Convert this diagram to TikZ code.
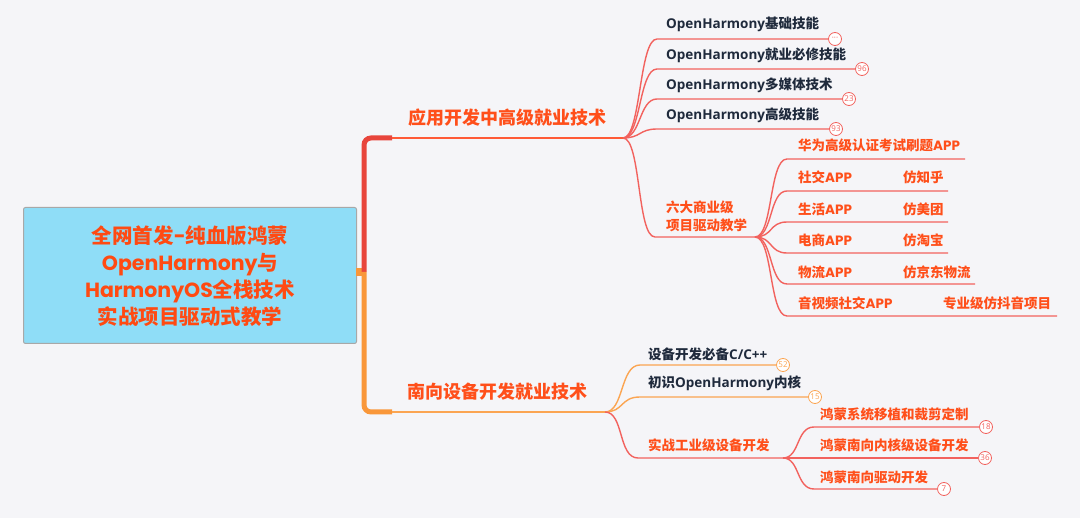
\documentclass[tikz,border=0pt]{standalone}
\usepackage{fontspec}
\setmainfont{Noto Sans CJK SC}
\newfontfamily\pop{Poppins}
\newfontfamily\osans{Open Sans}
\definecolor{bg}{HTML}{F5F5F8}
\definecolor{rootfill}{HTML}{8FDDF7}
\definecolor{rootdraw}{HTML}{A8A8A8}
\definecolor{roottxt}{HTML}{FF4A12}
\definecolor{spinered}{HTML}{E8453C}
\definecolor{b1line}{HTML}{FF5A36}
\definecolor{redline}{HTML}{F2625E}
\definecolor{orgspine}{HTML}{F9973A}
\definecolor{orgline}{HTML}{FBA552}
\definecolor{darktxt}{HTML}{1F2A3C}
\definecolor{orgtxt}{HTML}{FF4F1A}
\begin{document}
\begin{tikzpicture}[x=1pt,y=-1pt,
  dark/.style={anchor=west, inner sep=0pt, text=darktxt, font=\fontsize{13.5}{16}\selectfont\bfseries},
  orgt/.style={anchor=west, inner sep=0pt, text=orgtxt, font=\fontsize{13.5}{16}\selectfont\bfseries},
  blabel/.style={inner sep=0pt, text=orgtxt, font=\fontsize{18}{20}\selectfont\bfseries},
  cnt/.style={circle, draw=#1, fill=white, minimum size=13pt, inner sep=0pt, line width=0.8pt, text=#1, font=\osans\fontsize{8}{9}\selectfont},
  rl/.style={draw=redline, line width=1.4pt},
  ol/.style={draw=orgline, line width=1.4pt}
]
\fill[bg] (0,0) rectangle (1080,518);
\useasboundingbox (0,0) rectangle (1080,518);

% root
\node[draw=rootdraw, fill=rootfill, rounded corners=2pt, line width=1pt, minimum width=333pt, minimum height=136pt, anchor=north west] (rootbox) at (23,207) {};
\node[align=center, text=roottxt, font=\fontsize{20.5}{26.8}\selectfont\bfseries, inner sep=0pt] (root) at (190,276)
 {全网首发{\pop-}纯血版鸿蒙\\{\pop OpenHarmony}与\\{\pop HarmonyOS}全栈技术\\实战项目驱动式教学};

% spine
\coordinate (sp) at (364,272);
\coordinate (t1) at (392,138);
\coordinate (t2) at (392,412);
\coordinate (b1) at (623,138);
\coordinate (b2) at (605,412);
\fill[orgspine] (356,268) rectangle (364,276);
\draw[spinered, line width=5pt, rounded corners=7pt] (sp) |- (t1);
\draw[orgspine, line width=5pt, rounded corners=7pt] (sp) |- (t2);
\draw[b1line, line width=1.8pt] (t1) -- (b1);
\draw[orgline, line width=1.8pt] (t2) -- (b2);

\node[blabel] (L1) at (507,118) {应用开发中高级就业技术};
\node[blabel] (L2) at (497,392) {南向设备开发就业技术};

% branch 1 children
\node[dark] (a1) at (666,24) {{\osans OpenHarmony}基础技能};
\node[dark] (a2) at (666,55) {{\osans OpenHarmony}就业必修技能};
\node[dark] (a3) at (666,85) {{\osans OpenHarmony}多媒体技术};
\node[dark] (a4) at (666,115) {{\osans OpenHarmony}高级技能};
\node[orgt, align=left, font=\fontsize{13.5}{18}\selectfont\bfseries] (a5) at (666,216) {六大商业级\\项目驱动教学};

\node[cnt=redline] (ca1) at (835,39) {···};
\node[cnt=redline] (ca2) at (862,69) {96};
\node[cnt=redline] (ca3) at (849,99) {23};
\node[cnt=redline] (ca4) at (836,129) {93};
\coordinate (ea5) at (755,237);

\draw[rl] (b1) .. controls (641,138) and (639,39) .. (657,39) -- (ca1.west);
\draw[rl] (b1) .. controls (641,138) and (639,69) .. (657,69) -- (ca2.west);
\draw[rl] (b1) .. controls (641,138) and (639,99) .. (657,99) -- (ca3.west);
\draw[rl] (b1) .. controls (641,138) and (639,129) .. (657,129) -- (ca4.west);
\draw[rl] (b1) .. controls (641,138) and (637,237) .. (655,237) -- (ea5);

% six projects
\node[orgt] (p1) at (798,145) {华为高级认证考试刷题{\pop APP}};
\node[orgt] (p2) at (798,177) {社交{\pop APP}};
\node[orgt] (p3) at (798,209) {生活{\pop APP}};
\node[orgt] (p4) at (798,240) {电商{\pop APP}};
\node[orgt] (p5) at (798,272) {物流{\pop APP}};
\node[orgt] (p6) at (798,303) {音视频社交{\pop APP}};
\node[orgt] (q2) at (903,177) {仿知乎};
\node[orgt] (q3) at (903,209) {仿美团};
\node[orgt] (q4) at (903,240) {仿淘宝};
\node[orgt] (q5) at (903,272) {仿京东物流};
\node[orgt] (q6) at (943,303) {专业级仿抖音项目};
\coordinate (e1) at (965,159);
\coordinate (e2) at (948,191);
\coordinate (e3) at (948,222);
\coordinate (e4) at (948,253);
\coordinate (e5) at (975,284);
\coordinate (e6) at (1057,316);
\foreach \i/\y in {1/159,2/191,3/222,4/253,5/284,6/316}{
  \draw[rl] (ea5) .. controls (773,237) and (769,\y) .. (787,\y) -- (e\i);
}

% branch 2 children
\node[dark] (c1) at (648,354) {设备开发必备{\osans C/C++}};
\node[dark] (c2) at (648,383) {初识{\osans OpenHarmony}内核};
\node[orgt] (c3) at (648,445) {实战工业级设备开发};
\node[cnt=orgline] (cc1) at (783,365) {52};
\node[cnt=orgline] (cc2) at (815,397) {15};
\coordinate (ec3) at (783,458);
\draw[ol] (b2) .. controls (624,412) and (620,365) .. (640,365) -- (cc1.west);
\draw[ol] (b2) .. controls (624,412) and (620,397) .. (640,397) -- (cc2.west);
\draw[rl] (b2) .. controls (624,412) and (618,458) .. (638,458) -- (ec3);

\node[orgt] (r1) at (820,414) {鸿蒙系统移植和裁剪定制};
\node[orgt] (r2) at (820,445) {鸿蒙南向内核级设备开发};
\node[orgt] (r3) at (820,477) {鸿蒙南向驱动开发};
\node[cnt=redline] (cr1) at (986,427) {18};
\node[cnt=redline] (cr2) at (985,458) {36};
\node[cnt=redline] (cr3) at (944,489) {7};
\draw[rl] (ec3) .. controls (800,458) and (796,427) .. (814,427) -- (cr1.west);
\draw[rl] (ec3) -- (cr2.west);
\draw[rl] (ec3) .. controls (800,458) and (796,489) .. (814,489) -- (cr3.west);
\end{tikzpicture}
\end{document}
